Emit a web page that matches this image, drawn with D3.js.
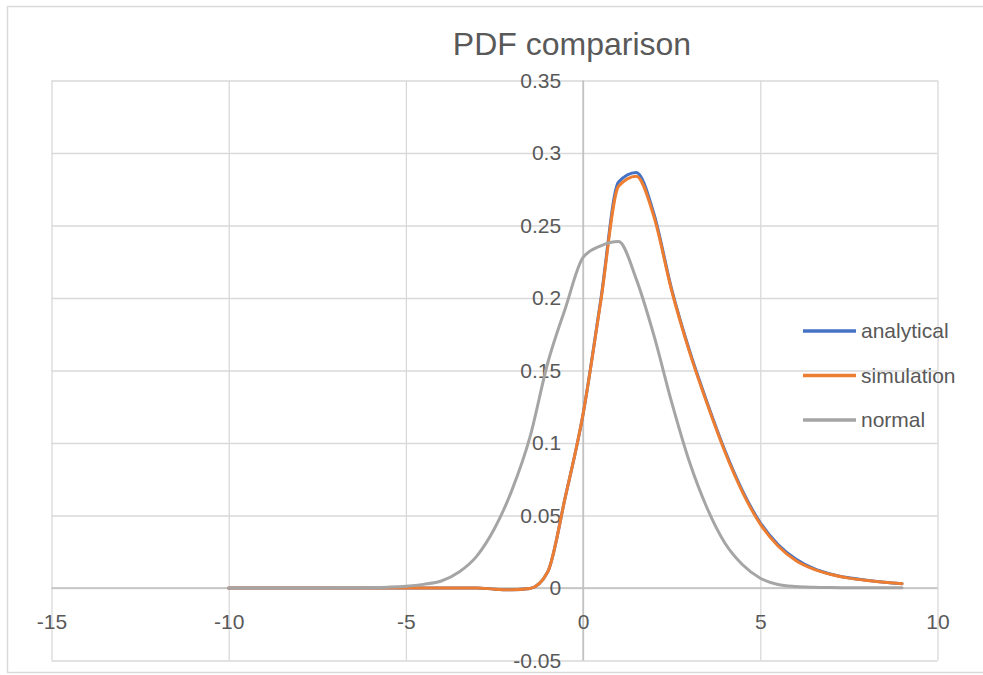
<!DOCTYPE html>
<html>
<head>
<meta charset="utf-8">
<script src="https://cdn.jsdelivr.net/npm/d3@7"></script>
<style>
  body { margin: 0; background: #fff; }
  svg text { font-family: "Liberation Sans", Arial, sans-serif; fill: #595959; }
</style>
</head>
<body>
<div id="chart"></div>
<script>
// x positions (step 0.5 from -10 to 9)
const xValues = [-10, -9.5, -9, -8.5, -8, -7.5, -7, -6.5, -6, -5.5, -5, -4.5, -4, -3.5, -3, -2.5, -2, -1.5, -1, -0.5,
  0, 0.5, 1, 1.5, 2, 2.5, 3, 3.5, 4, 4.5, 5, 5.5, 6, 6.5, 7, 7.5, 8, 8.5, 9];

const analytical = [0, 0, 0, 0, 0, 0, 0, 0, 0, 0, 0, 0, 0, 0, 0, -0.0008, -0.0012, -0.0004, 0.011, 0.063,
  0.12, 0.199, 0.28, 0.2866, 0.258, 0.206, 0.164, 0.128, 0.095, 0.067, 0.045, 0.030, 0.020, 0.0135, 0.0095, 0.007, 0.0053, 0.004, 0.003];
const simulation = [0, 0, 0, 0, 0, 0, 0, 0, 0, 0, 0, 0, 0, 0, 0, -0.0008, -0.0012, -0.0004, 0.011, 0.063,
  0.12, 0.198, 0.277, 0.284, 0.256, 0.205, 0.163, 0.127, 0.094, 0.066, 0.044, 0.029, 0.019, 0.013, 0.0093, 0.0068, 0.0052, 0.004, 0.003];
const normal = [0, 0, 0, 0, 0, 0, 0.0001, 0.0002, 0.0003, 0.0006, 0.0012, 0.0025, 0.0048, 0.011, 0.022, 0.041, 0.068, 0.104, 0.155, 0.193,
  0.228, 0.236, 0.239, 0.213, 0.174, 0.128, 0.087, 0.055, 0.031, 0.016, 0.0067, 0.0024, 0.001, 0.0005, 0.0003, 0.0002, 0.0001, 0.0001, 0.0001];

const seriesNames = ["analytical", "simulation", "normal"];
const seriesColors = ["#4472C4", "#ED7D31", "#A5A5A5"];
const xTicks = [-15, -10, -5, 0, 5, 10];
const yTicks = [-0.05, 0, 0.05, 0.1, 0.15, 0.2, 0.25, 0.3, 0.35];

const width = 983, height = 675;
const plot = { left: 51.5, right: 937.5, top: 80.5, bottom: 660.5 };

const svg = d3.select("#chart").append("svg")
  .attr("width", width)
  .attr("height", height);

// chart border
svg.append("rect")
  .attr("x", 7.5).attr("y", 6.5)
  .attr("width", 1100).attr("height", 666)
  .attr("fill", "#fff")
  .attr("stroke", "#d9d9d9")
  .attr("stroke-width", 1.5);

const x = d3.scaleLinear().domain([-15, 10]).range([plot.left, plot.right]);
const y = d3.scaleLinear().domain([-0.05, 0.35]).range([plot.bottom, plot.top]);

// gridlines
svg.append("g")
  .attr("transform", `translate(0,${plot.bottom})`)
  .call(d3.axisBottom(x).tickValues(xTicks).tickSize(-(plot.bottom - plot.top)).tickFormat(""))
  .call(g => g.select(".domain").remove())
  .call(g => g.selectAll("line").attr("stroke", "#d9d9d9").attr("stroke-width", 1.3));

svg.append("g")
  .attr("transform", `translate(${plot.left},0)`)
  .call(d3.axisLeft(y).tickValues(yTicks).tickSize(-(plot.right - plot.left)).tickFormat(""))
  .call(g => g.select(".domain").remove())
  .call(g => g.selectAll("line").attr("stroke", "#d9d9d9").attr("stroke-width", 1.3));

// axis lines through zero
svg.append("line")
  .attr("x1", plot.left).attr("x2", plot.right)
  .attr("y1", y(0)).attr("y2", y(0))
  .attr("stroke", "#bfbfbf").attr("stroke-width", 1.5);
svg.append("line")
  .attr("x1", x(0)).attr("x2", x(0))
  .attr("y1", plot.top).attr("y2", plot.bottom)
  .attr("stroke", "#bfbfbf").attr("stroke-width", 1.5);

// tick labels
const fmt = v => String(+v.toFixed(2));
svg.append("g")
  .attr("transform", `translate(0,${y(0)})`)
  .call(d3.axisBottom(x).tickValues(xTicks).tickSize(0).tickPadding(26).tickFormat(fmt))
  .call(g => g.select(".domain").remove())
  .call(g => g.selectAll("text").attr("font-size", 21).attr("fill", "#595959").attr("font-family", null));

svg.append("g")
  .attr("transform", `translate(${x(0)},0)`)
  .call(d3.axisLeft(y).tickValues(yTicks).tickSize(0).tickPadding(22).tickFormat(fmt))
  .call(g => g.select(".domain").remove())
  .call(g => g.selectAll("text").attr("font-size", 21).attr("fill", "#595959").attr("font-family", null));

// lines
const data = [analytical, simulation, normal];
const line = d3.line()
  .x((d, i) => x(xValues[i]))
  .y(d => y(d))
  .curve(d3.curveMonotoneX);

svg.append("g").selectAll("path")
  .data(data)
  .join("path")
  .attr("d", line)
  .attr("fill", "none")
  .attr("stroke", (d, i) => seriesColors[i])
  .attr("stroke-width", 3)
  .attr("stroke-linejoin", "round")
  .attr("stroke-linecap", "round");

// title
svg.append("text")
  .attr("x", 572).attr("y", 55)
  .attr("text-anchor", "middle")
  .attr("font-size", 32)
  .text("PDF comparison");

// legend
const legend = svg.append("g").attr("transform", "translate(803,331)");
const item = legend.selectAll("g")
  .data(seriesNames)
  .join("g")
  .attr("transform", (d, i) => `translate(0,${i * 44.5})`);
item.append("line")
  .attr("x1", 0).attr("x2", 53)
  .attr("stroke", (d, i) => seriesColors[i])
  .attr("stroke-width", 3.5);
item.append("text")
  .attr("x", 58).attr("dy", "0.35em")
  .attr("font-size", 21)
  .text(d => d);
</script>
</body>
</html>
